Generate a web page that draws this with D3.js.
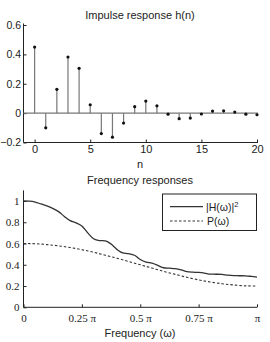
<!DOCTYPE html>
<html>
<head>
<meta charset="utf-8">
<script src="https://cdn.jsdelivr.net/npm/d3@7"></script>
<style>
  body { margin: 0; background: #fff; }
  svg { display: block; }
  .sans { font-family: "Liberation Sans", Arial, sans-serif; }
  .serif { font-family: "Liberation Serif", "Times New Roman", serif; }
</style>
</head>
<body>
<script>
// impulse response h(n), n = 0..20
var nVals = d3.range(0, 21);
var hVals = [0.45, -0.10, 0.162, 0.382, 0.305, 0.057, -0.139, -0.164, -0.068, 0.044,
             0.082, 0.05, -0.007, -0.038, -0.034, -0.006, 0.014, 0.016, 0.007, -0.007, -0.011];
var hTicks = [-0.2, 0, 0.2, 0.4, 0.6];
var nTicks = [0, 5, 10, 15, 20];

// frequency responses, sampled at w/pi = 0, 0.025, ... 1
var wH = d3.range(0, 41).map(function(i) { return i / 40; });
var hSq = [1.0, 0.998, 0.99, 0.972, 0.955, 0.93, 0.9, 0.855, 0.815, 0.795,
           0.765, 0.70, 0.645, 0.628, 0.625, 0.595, 0.545, 0.512, 0.505, 0.49,
           0.45, 0.425, 0.415, 0.395, 0.372, 0.368, 0.364, 0.352, 0.335, 0.33,
           0.328, 0.322, 0.312, 0.311, 0.309, 0.302, 0.298, 0.297, 0.296, 0.291, 0.284];
var wP = d3.range(0, 21).map(function(i) { return i / 20; });
var pVals = [0.6, 0.598, 0.59, 0.578, 0.562, 0.542, 0.518, 0.49, 0.462, 0.431,
             0.4, 0.369, 0.338, 0.31, 0.282, 0.258, 0.238, 0.222, 0.21, 0.202, 0.2];
var fTicks = [0, 0.2, 0.4, 0.6, 0.8, 1];
var wTicks = [0, 0.25, 0.5, 0.75, 1];
var wTickLabels = ["0", "0.25 \u03c0", "0.5 \u03c0", "0.75 \u03c0", "\u03c0"];

var width = 270, height = 342;
var svg = d3.select("body").append("svg")
    .attr("width", width)
    .attr("height", height);

//Top chart: impulse response
var x1 = d3.scaleLinear().domain([-1, 20]).range([23.5, 257]);
var y1 = d3.scaleLinear().domain([-0.2, 0.6]).range([142.5, 25]);

var g1 = svg.append("g");
// axes (left and bottom only, ticks inward)
var xAx1 = g1.append("g")
  .attr("transform", "translate(0," + y1(-0.2) + ")")
  .call(d3.axisBottom(x1).tickValues(nTicks).tickSize(-3).tickPadding(3)
        .tickFormat(d3.format("d")))
  .call(function(g) { g.select(".domain").attr("d", "M" + x1(-1) + ",0H" + (x1(20) + 1)); });
var yAx1 = g1.append("g")
  .attr("transform", "translate(" + x1(-1) + ",0)")
  .call(d3.axisLeft(y1).tickValues(hTicks).tickSize(-3).tickPadding(2.5)
        .tickFormat(function(d) { return d === 0 ? "0" : d3.format(".1f")(d).replace("-", "\u2212"); }))
  .call(function(g) { g.select(".domain").attr("d", "M0," + (y1(0.6) - 1.5) + "V" + y1(-0.2)); });
xAx1.selectAll(".tick text").attr("class", "sans").style("font-size", "11px").attr("fill", "#222");
yAx1.selectAll(".tick text").attr("class", "sans").style("font-size", "10.5px").attr("fill", "#222");
g1.selectAll(".domain, .tick line").attr("stroke", "#222");

// zero line
g1.append("line")
  .attr("x1", x1(-1)).attr("x2", x1(20) + 1)
  .attr("y1", y1(0)).attr("y2", y1(0))
  .attr("stroke", "#777").attr("stroke-width", 1.2);

// stems
g1.selectAll(".stem")
  .data(hVals)
  .enter()
  .append("line")
  .attr("class", "stem")
  .attr("x1", function(d, i) { return x1(nVals[i]); })
  .attr("x2", function(d, i) { return x1(nVals[i]); })
  .attr("y1", y1(0))
  .attr("y2", function(d) { return y1(d); })
  .attr("stroke", "#777")
  .attr("stroke-width", 1.2);
g1.selectAll(".dot")
  .data(hVals)
  .enter()
  .append("circle")
  .attr("class", "dot")
  .attr("cx", function(d, i) { return x1(nVals[i]); })
  .attr("cy", function(d) { return y1(d); })
  .attr("r", 1.6)
  .attr("fill", "#111");

g1.append("text")
  .attr("class", "sans")
  .attr("x", 140).attr("y", 19)
  .attr("text-anchor", "middle")
  .style("font-size", "11px")
  .attr("fill", "#222")
  .text("Impulse response h(n)");
g1.append("text")
  .attr("class", "sans")
  .attr("x", 140).attr("y", 168)
  .attr("text-anchor", "middle")
  .style("font-size", "11px")
  .attr("fill", "#222")
  .text("n");

//Bottom chart: frequency responses
var x2 = d3.scaleLinear().domain([0, 1]).range([23.5, 257]);
var y2 = d3.scaleLinear().domain([0, 1]).range([307.3, 201]);

var g2 = svg.append("g");
g2.append("g")
  .attr("transform", "translate(0," + y2(0) + ")")
  .call(d3.axisBottom(x2).tickValues(wTicks).tickSize(-3).tickPadding(7)
        .tickFormat(function(d, i) { return wTickLabels[i]; }))
  .call(function(g) { g.select(".domain").attr("d", "M" + x2(0) + ",0H" + x2(1)); });
g2.append("g")
  .attr("transform", "translate(" + x2(0) + ",0)")
  .call(d3.axisLeft(y2).tickValues(fTicks).tickSize(-3).tickPadding(4)
        .tickFormat(function(d) { return d === 0 || d === 1 ? String(d) : d3.format(".1f")(d); }))
  .call(function(g) { g.select(".domain").attr("d", "M0," + y2(1.1) + "V" + y2(0)); });
g2.selectAll(".tick text").attr("class", "serif").style("font-size", "11px").attr("fill", "#222");
g2.selectAll(".domain, .tick line").attr("stroke", "#222");

var lineH = d3.line()
  .x(function(d, i) { return x2(wH[i]); })
  .y(function(d) { return y2(d); })
  .curve(d3.curveMonotoneX);
var lineP = d3.line()
  .x(function(d, i) { return x2(wP[i]); })
  .y(function(d) { return y2(d); })
  .curve(d3.curveMonotoneX);

g2.append("path")
  .datum(hSq)
  .attr("d", lineH)
  .attr("fill", "none")
  .attr("stroke", "#333")
  .attr("stroke-width", 1.3);
g2.append("path")
  .datum(pVals)
  .attr("d", lineP)
  .attr("fill", "none")
  .attr("stroke", "#333")
  .attr("stroke-width", 1.1)
  .attr("stroke-dasharray", "2.5,2");

// legend
var lg = g2.append("g");
lg.append("rect")
  .attr("x", 162.5).attr("y", 194)
  .attr("width", 94).attr("height", 36.5)
  .attr("fill", "#fff").attr("stroke", "#222").attr("stroke-width", 1);
lg.append("line")
  .attr("x1", 170).attr("x2", 203).attr("y1", 206.7).attr("y2", 206.7)
  .attr("stroke", "#333").attr("stroke-width", 1.3);
lg.append("line")
  .attr("x1", 170).attr("x2", 203).attr("y1", 221).attr("y2", 221)
  .attr("stroke", "#333").attr("stroke-width", 1.1)
  .attr("stroke-dasharray", "2.5,2");
var t1 = lg.append("text")
  .attr("class", "sans")
  .attr("x", 206).attr("y", 210.5)
  .style("font-size", "10.5px")
  .attr("fill", "#222");
t1.append("tspan").text("|H(\u03c9)|");
t1.append("tspan").attr("dy", -4).style("font-size", "7.5px").text("2");
lg.append("text")
  .attr("class", "sans")
  .attr("x", 207).attr("y", 225)
  .style("font-size", "10.5px")
  .attr("fill", "#222")
  .text("P(\u03c9)");

g2.append("text")
  .attr("class", "sans")
  .attr("x", 140).attr("y", 183.5)
  .attr("text-anchor", "middle")
  .style("font-size", "11px")
  .attr("fill", "#222")
  .text("Frequency responses");
g2.append("text")
  .attr("class", "sans")
  .attr("x", 140).attr("y", 337)
  .attr("text-anchor", "middle")
  .style("font-size", "11px")
  .attr("fill", "#222")
  .text("Frequency (\u03c9)");
</script>
</body>
</html>
